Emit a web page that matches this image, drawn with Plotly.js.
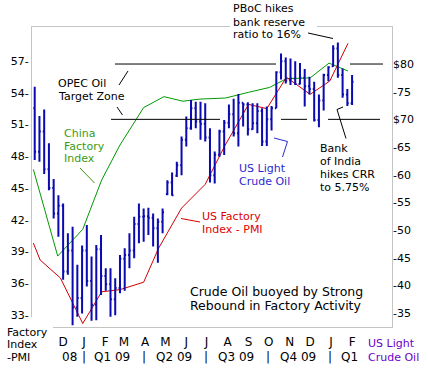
<!DOCTYPE html>
<html>
<head>
<meta charset="utf-8">
<script src="https://cdn.plot.ly/plotly-3.0.1.min.js"></script>
<style>html,body{margin:0;padding:0;background:#fff;}#chart{width:428px;height:370px;}</style>
</head>
<body>
<div id="chart"></div>
<script>
// ---- Weekly US Light Crude Oil bars (right axis, $) ----
var weeks = ['2008-10-20','2008-10-27','2008-11-03','2008-11-10','2008-11-17','2008-11-24','2008-12-01','2008-12-08','2008-12-15','2008-12-22','2008-12-29',
'2009-01-05','2009-01-12','2009-01-19','2009-01-26','2009-02-02','2009-02-09','2009-02-16','2009-02-23','2009-03-02','2009-03-09','2009-03-16','2009-03-23','2009-03-30',
'2009-04-06','2009-04-13','2009-04-20','2009-04-27','2009-05-04','2009-05-11','2009-05-18','2009-05-25','2009-06-01','2009-06-08','2009-06-15','2009-06-22','2009-06-29',
'2009-07-06','2009-07-13','2009-07-20','2009-07-27','2009-08-03','2009-08-10','2009-08-17','2009-08-24','2009-08-31','2009-09-07','2009-09-14','2009-09-21','2009-09-28',
'2009-10-05','2009-10-12','2009-10-19','2009-10-26','2009-11-02','2009-11-09','2009-11-16','2009-11-23','2009-11-30','2009-12-07','2009-12-14','2009-12-21','2009-12-28',
'2010-01-04','2010-01-11','2010-01-18','2010-01-25','2010-02-01'];
var oilOpen  = [72.0,64.15,67.8,61.0,57.6,53.0,54.4,42.5,46.3,36.0,37.7,46.3,40.8,36.5,46.5,41.7,40.2,37.5,39.5,44.8,45.5,46.3,51.1,52.4,52.5,52.2,50.3,51.5,56.5,58.6,59.8,61.7,66.3,68.4,72.0,69.6,69.2,66.7,59.9,63.6,67.8,69.4,70.9,67.5,73.0,72.7,68.2,69.3,71.5,66.0,70.0,72.0,78.5,80.5,77.0,77.4,76.4,77.5,76.0,75.5,69.9,73.4,78.0,79.6,82.8,78.0,74.5,72.9];
var oilHigh  = [75.9,70.6,71.8,65.7,59.2,56.3,54.8,49.4,50.6,43.7,47.2,50.9,45.2,47.3,49.1,43.1,43.1,41.3,45.5,46.7,49.4,52.4,54.8,53.9,54.0,53.0,52.1,53.9,59.0,60.4,62.35,66.9,70.5,73.5,73.2,73.2,72.9,68.4,64.2,68.1,69.9,72.7,73.7,74.6,73.0,73.1,72.9,72.9,72.0,72.3,72.4,78.7,81.9,81.2,81.0,80.5,80.2,79.1,77.7,76.8,74.5,78.25,79.6,83.4,83.9,79.2,75.5,78.0];
var oilLow   = [62.65,62.35,60.1,57.2,52.1,48.8,41.0,41.9,32.8,34.3,34.9,39.8,33.6,33.7,38.25,39.0,34.3,34.6,38.55,39.0,43.1,44.9,47.6,47.9,49.1,47.0,44.1,49.4,56.3,56.2,59.6,59.9,65.1,68.1,68.4,66.3,66.0,58.6,58.4,63.25,63.55,68.4,66.9,65.1,68.7,67.1,68.1,67.5,65.2,65.2,68.0,72.0,77.2,76.5,76.2,76.2,76.3,72.3,74.5,69.6,68.55,71.6,76.9,79.5,77.5,73.9,72.4,72.6];
var oilClose = [64.15,67.8,61.0,57.6,53.0,54.4,42.5,46.3,36.0,37.7,46.3,40.8,36.5,46.5,41.7,40.2,37.5,39.5,44.8,45.5,46.3,51.1,52.4,52.5,52.2,50.3,51.5,53.2,58.6,56.3,61.7,66.3,68.4,72.0,69.6,69.2,66.7,59.9,63.6,67.8,69.4,70.9,67.5,73.0,72.7,68.2,69.3,71.5,66.0,70.0,72.0,78.5,80.5,77.0,77.4,76.4,77.5,76.0,75.5,69.9,73.4,78.0,79.4,82.8,78.0,74.5,72.9,76.8];

// ---- US Factory Index (ISM PMI), left axis ----
var usPmiDates = ['2008-10-18','2008-10-28','2008-11-27','2008-12-30','2009-01-27','2009-02-23','2009-03-30','2009-04-21','2009-05-25','2009-06-29','2009-07-28','2009-09-01','2009-09-28','2009-10-27','2009-12-01','2009-12-30','2010-01-26'];
var usPmi      = [39.8,38.2,36.5,32.2,35.2,35.4,36.1,39.3,43.1,45.35,49.0,52.9,52.5,55.46,53.85,55.1,58.67];

// ---- China Factory Index, left axis ----
var chinaDates = ['2008-10-18','2008-11-23','2008-12-30','2009-01-27','2009-02-23','2009-03-30','2009-04-29','2009-05-27','2009-06-21','2009-07-29','2009-09-01','2009-10-02','2009-10-27','2009-12-01','2009-12-29','2010-01-26'];
var chinaPmi   = [46.76,38.57,41.1,45.76,49.06,52.6,53.63,53.2,53.4,53.5,54.04,54.5,55.33,55.4,56.8,56.05];

// ---- Axis ticks ----
var leftTickVals  = [57,54,51,48,45,42,39,36,33];
var leftTickText  = ['57-','54-','51-','48-','45-','42-','39-','36-','33-'];
var rightTickVals = [80,75,70,65,60,55,50,45,40,35];
var rightTickText = ['$80','-75','$70','-65','-60','-55','-50','-45','-40','-35'];
var monthVals = ['2008-12-01','2009-01-01','2009-02-01','2009-03-01','2009-04-01','2009-05-01','2009-06-01','2009-07-01','2009-08-01','2009-09-01','2009-10-01','2009-11-01','2009-12-01','2010-01-01','2010-02-01'];
var monthText = ['D','J','F','M','A','M','J','J','A','S','O','N','D','J','F'];
var quarterText = ['08','|','Q1 09','|','Q2 09','|','Q3 09','|','Q4 09','|','Q1'];
var quarterPx   = [69,83.5,112,144,174,206,236,268,298,330,349];

// OPEC target zone levels ($)
var opecHigh = 80, opecLow = 70;

var FONT = 'DejaVu Sans, Verdana, sans-serif';
var L = 32, R = 392, T = 27, B = 327;
function px(x){ return (x - L) / (R - L); }
function py(y){ return (B - y) / (B - T); }

var annotations = [];
function txt(lines, x, y, dy, color, size){
  lines.forEach(function(s, i){
    annotations.push({xref:'paper', yref:'paper', x:px(x), y:py(y + i*dy), xanchor:'left', yanchor:'middle',
      text:s, showarrow:false, borderpad:0, font:{family:FONT, size:size || 11, color:color}});
  });
}
txt(['PBoC hikes','bank reserve','ratio to 16%'], 232, 9, 13, '#000');
txt(['OPEC Oil','Target Zone'], 57, 84, 13, '#000');
txt(['China','Factory','Index'], 62.5, 133, 13, '#3b9b14');
txt(['US Light','Crude Oil'], 238, 168, 13, '#2a2ad0');
txt(['US Factory','Index - PMI'], 201, 216, 13, '#e00000');
txt(['Bank','of India','hikes CRR','to 5.75%'], 318.5, 148, 13, '#000');
txt(['Crude Oil buoyed by Strong','Rebound in Factory Activity'], 188.5, 291, 14, '#000', 12.5);
txt(['Factory','Index','-PMI'], 5.5, 332, 12.7, '#000');
txt(['US Light','Crude Oil'], 367, 343.5, 13.5, '#6a00c8');
quarterText.forEach(function(s, i){
  annotations.push({xref:'paper', yref:'paper', x:px(quarterPx[i]), y:py(357), xanchor:'center', yanchor:'middle',
    text:s, showarrow:false, borderpad:0, font:{family:FONT, size:12, color:'#000'}});
});

var shapes = [];
function seg(pts, color){
  for (var i = 0; i < pts.length - 1; i++){
    shapes.push({type:'line', xref:'paper', yref:'paper', x0:px(pts[i][0]), y0:py(pts[i][1]), x1:px(pts[i+1][0]), y1:py(pts[i+1][1]),
      line:{color:color, width:1}, layer:'above'});
  }
}
function hline(x0, x1, level){
  shapes.push({type:'line', xref:'paper', yref:'y2', x0:px(x0), x1:px(x1), y0:level, y1:level, line:{color:'#000', width:1}, layer:'above'});
}
// white patches (text box over top border, open corner bottom-left)
shapes.push({type:'rect', xref:'paper', yref:'paper', x0:px(230), x1:px(317), y0:py(29), y1:py(0), fillcolor:'#fff', line:{width:0}, layer:'above'});
shapes.push({type:'rect', xref:'paper', yref:'paper', x0:px(28), x1:px(53), y0:py(330), y1:py(317), fillcolor:'#fff', line:{width:0}, layer:'above'});
hline(115, 276, opecHigh); hline(350, 383, opecHigh);
hline(111, 220, opecLow); hline(281, 307, opecLow); hline(328, 380, opecLow);
seg([[128,71],[119,85]], '#000');
seg([[117,107],[122.5,115]], '#000');
seg([[80,168],[94.5,183]], '#3b9b14');
seg([[274,138],[287.5,141.5],[282.5,157]], '#2a2ad0');
seg([[181,218.5],[200,222]], '#e00000');
seg([[343,107],[337,109.5],[346,138.5]], '#000');
seg([[308,33],[333,38.5]], '#000');

var traces = [
  {type:'ohlc', x:weeks, open:oilOpen, high:oilHigh, low:oilLow, close:oilClose, yaxis:'y2', tickwidth:0.3,
   increasing:{line:{color:'#0a0ab0', width:2}}, decreasing:{line:{color:'#0a0ab0', width:2}}, hoverinfo:'skip'},
  {type:'scatter', mode:'lines', x:chinaDates, y:chinaPmi, line:{color:'#009a00', width:1}, hoverinfo:'skip'},
  {type:'scatter', mode:'lines', x:usPmiDates, y:usPmi, line:{color:'#d00000', width:1}, hoverinfo:'skip'}
];

var layout = {
  width:428, height:370, margin:{l:L, r:428-R, t:T, b:370-B, pad:0},
  paper_bgcolor:'#fff', plot_bgcolor:'#fff', showlegend:false, hovermode:false,
  font:{family:FONT, size:11, color:'#000'},
  xaxis:{type:'date', range:['2008-10-16','2010-04-01'], tickvals:monthVals, ticktext:monthText,
    ticks:'outside', ticklen:4, tickcolor:'rgba(0,0,0,0)', tickfont:{family:FONT, size:12, color:'#000'},
    showgrid:false, zeroline:false, showline:true, mirror:true, linecolor:'#c4c4c4', linewidth:1, rangeslider:{visible:false}, fixedrange:true},
  yaxis:{range:[31.87,60.21], tickvals:leftTickVals, ticktext:leftTickText, ticks:'', showgrid:false, zeroline:false,
    showline:true, mirror:true, linecolor:'#c4c4c4', linewidth:1, tickfont:{family:FONT, size:11, color:'#000'}, fixedrange:true},
  yaxis2:{range:[32.47,86.69], overlaying:'y', side:'right', tickvals:rightTickVals, ticktext:rightTickText, ticks:'',
    showgrid:false, zeroline:false, showline:false, tickfont:{family:FONT, size:11, color:'#000'}, fixedrange:true},
  annotations:annotations, shapes:shapes
};
Plotly.newPlot('chart', traces, layout, {staticPlot:true, displayModeBar:false});
</script>
</body>
</html>
